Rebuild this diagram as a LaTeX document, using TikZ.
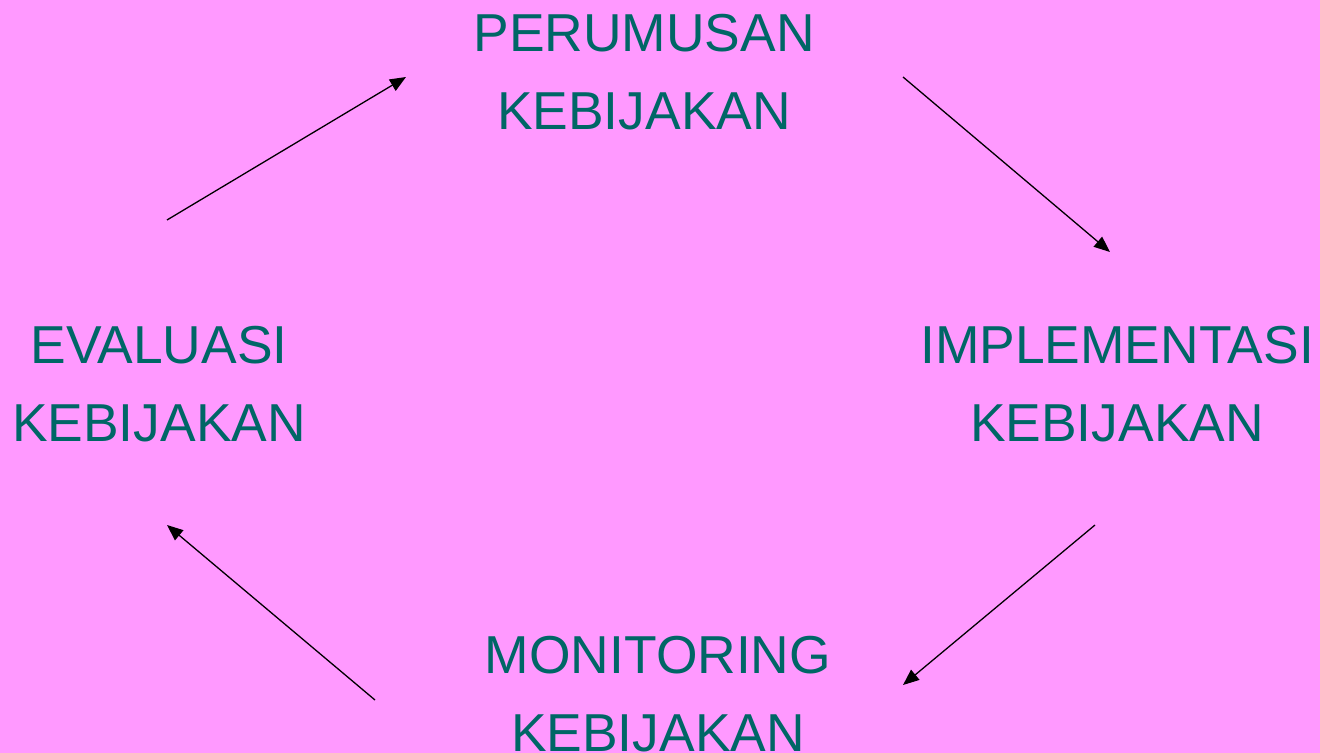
\documentclass[tikz,border=0pt]{standalone}
\usepackage{fontspec}
\setmainfont{Liberation Sans}
\usetikzlibrary{arrows.meta}
\definecolor{bgpink}{HTML}{FF99FF}
\definecolor{tealtext}{HTML}{006666}
\begin{document}
\begin{tikzpicture}[x=0.5pt,y=-0.5pt,
  stage/.style={text=tealtext, align=center, inner sep=0pt, font=\fontsize{26.7}{39}\selectfont},
  cycle/.style={-{Triangle[length=8pt,width=6.5pt]}, line width=0.65pt}]
\fill[bgpink] (0,0) rectangle (1320,753);
\useasboundingbox (0,0) rectangle (1320,753);
\path
(644,72) node [stage] (perumusan) {PERUMUSAN\\KEBIJAKAN}
(1117,384) node [stage] (implementasi) {IMPLEMENTASI\\KEBIJAKAN}
(658,694) node [stage] (monitoring) {MONITORING\\KEBIJAKAN}
(159,384) node [stage] (evaluasi) {EVALUASI\\KEBIJAKAN};
% ujung panah
\coordinate (e1) at (167,220);
\coordinate (p1) at (406,77);
\coordinate (p2) at (903,77);
\coordinate (i1) at (1110,252);
\coordinate (i2) at (1095,525);
\coordinate (m1) at (903,685);
\coordinate (m2) at (375,700);
\coordinate (e2) at (167,525);
\draw[cycle] (e1) -- (p1);
\draw[cycle] (p2) -- (i1);
\draw[cycle] (i2) -- (m1);
\draw[cycle] (m2) -- (e2);
\end{tikzpicture}
\end{document}
